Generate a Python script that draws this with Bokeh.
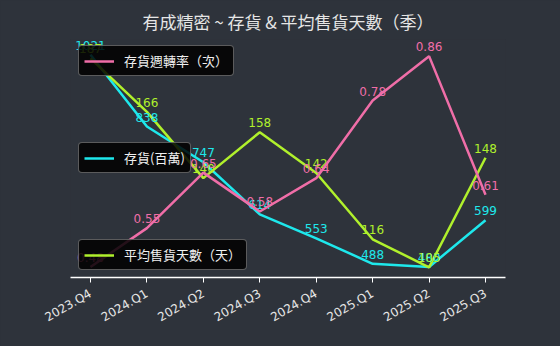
import math
from bokeh.plotting import figure
from bokeh.models import Range1d, FixedTicker, Legend, LegendItem
from bokeh.core.properties import value
from bokeh.embed import file_html
from bokeh.resources import INLINE

quarters = ["2023.Q4", "2024.Q1", "2024.Q2", "2024.Q3", "2024.Q4", "2025.Q1", "2025.Q2", "2025.Q3"]
inventory = [1021, 838, 747, 614, 553, 488, 480, 599]
turnover = [0.48, 0.55, 0.65, 0.58, 0.64, 0.78, 0.86, 0.61]
avg_days = [187, 166, 140, 158, 142, 116, 105, 148]

title = "有成精密 ~ 存貨 & 平均售貨天數（季）"
label_turn = "存貨週轉率（次）"
label_inv = "存貨(百萬)"
label_days = "平均售貨天數（天）"

BG = "#2e333b"
CYAN = "#1ee8ec"
PINK = "#f06ea8"
YG = "#b0f02c"
FONT = "DejaVu Sans, Noto Sans CJK TC"
CJK = "Noto Sans CJK TC, DejaVu Sans"

xs = list(range(len(quarters)))

p = figure(width=560, height=346, output_backend="svg", toolbar_location=None,
           x_range=Range1d(-0.354, len(quarters) - 1 + 0.354),
           y_range=Range1d(453, 1060),
           min_border_left=70, min_border_right=55, min_border_top=36,
           min_border_bottom=69)
p.extra_y_ranges = {"days": Range1d(101, 194.4), "turn": Range1d(0.461, 0.890)}

p.styles = {"background-color": BG}
p.background_fill_color = BG
p.border_fill_color = BG
p.outline_line_color = None
p.grid.visible = False
p.yaxis.visible = False

p.title.text = title
p.title.align = "center"
p.title.text_color = "#e6e6e6"
p.title.text_font = CJK
p.title.text_font_size = "17px"
p.title.text_font_style = "normal"
p.title.padding = 6
p.title.standoff = 0

ax = p.xaxis[0]
ax.ticker = FixedTicker(ticks=xs)
ax.major_label_overrides = {i: q for i, q in enumerate(quarters)}
ax.major_label_orientation = math.pi / 6
ax.major_label_text_color = "#e6e6e6"
ax.major_label_text_font = FONT
ax.major_label_text_font_size = "12px"
ax.major_label_standoff = 10
ax.axis_line_color = "white"
ax.axis_line_width = 1.5
ax.major_tick_line_color = "white"
ax.major_tick_in = 0
ax.major_tick_out = 5
ax.minor_tick_line_color = None

lw = 2.5
r_inv = p.line(xs, inventory, line_color=CYAN, line_width=lw)
r_days = p.line(xs, avg_days, line_color=YG, line_width=lw, y_range_name="days")
r_turn = p.line(xs, turnover, line_color=PINK, line_width=lw, y_range_name="turn",
                level="overlay")

p.text(xs, inventory, text=[str(v) for v in inventory], text_color=CYAN,
       text_font=value(FONT), text_font_size="12px", text_align="center",
       text_baseline="bottom", y_offset=-5)
p.text(xs, avg_days, text=[str(v) for v in avg_days], text_color=YG,
       text_font=value(FONT), text_font_size="12px", text_align="center",
       text_baseline="bottom", y_offset=-5, y_range_name="days")
p.text(xs, turnover, text=["%.2f" % v for v in turnover], text_color=PINK,
       text_font=value(FONT), text_font_size="12px", text_align="center",
       text_baseline="bottom", y_offset=-5, y_range_name="turn", level="overlay")


def make_legend(label, rend, loc):
    lg = Legend(items=[LegendItem(label=label, renderers=[rend])], location=loc,
                background_fill_color="black", background_fill_alpha=0.85,
                border_line_color="#b0b0b0", border_line_width=1,
                label_text_color="#f0f0f0", label_text_font=CJK,
                label_text_font_size="13px", glyph_width=30, glyph_height=14,
                label_standoff=10, padding=5, margin=0, spacing=0,
                label_height=16)
    try:
        lg.border_radius = 4
    except Exception:
        pass
    p.add_layout(lg, "center")
    return lg


make_legend(label_turn, r_turn, (8, 201))
make_legend(label_inv, r_inv, (8, 104))
make_legend(label_days, r_days, (8, 7))

open("out.html", "w").write(file_html(p, INLINE))
